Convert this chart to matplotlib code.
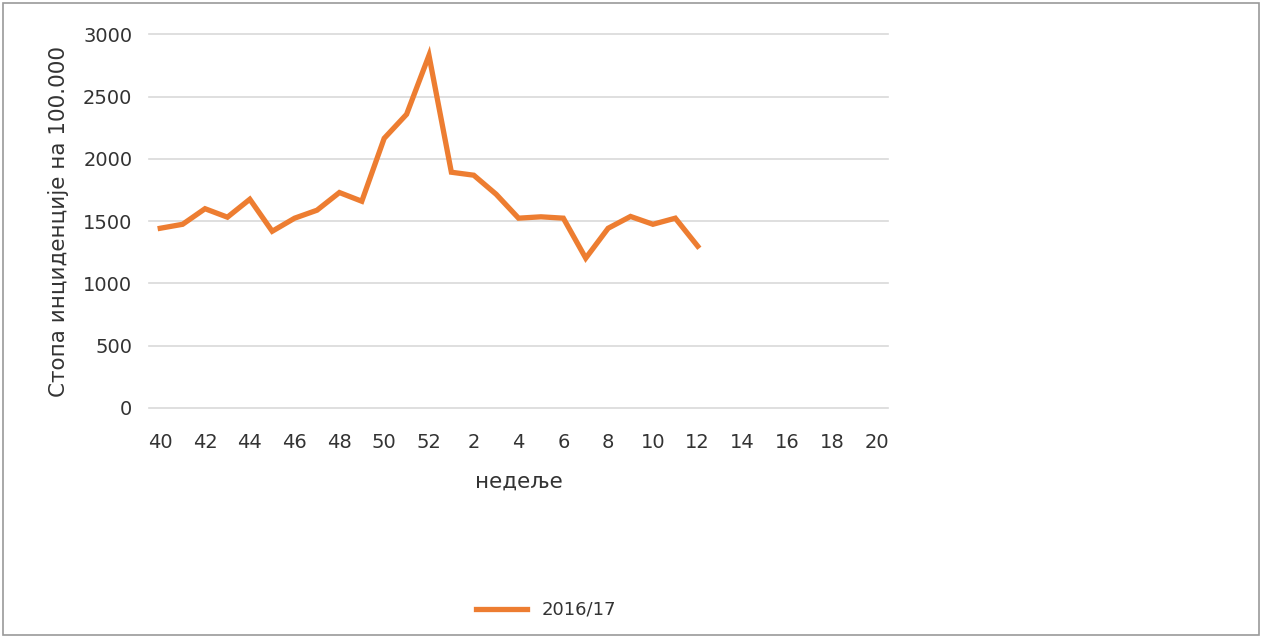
import matplotlib
matplotlib.use("Agg")
import matplotlib.pyplot as plt
from matplotlib.patches import Rectangle

# недеље 40..52 па 1..20
weeks = list(range(40, 53)) + list(range(1, 21))
rate_2016_17 = [1443, 1475, 1600, 1532, 1676, 1419, 1524, 1588, 1730, 1660,
                2165, 2358, 2831, 1893, 1869, 1716, 1524, 1535, 1524, 1203,
                1443, 1538, 1475, 1524, 1299]
series_label = "2016/17"
y_ticks = [0, 500, 1000, 1500, 2000, 2500, 3000]

plt.rcParams["font.family"] = ["DejaVu Sans"]
TXT = "#333333"

fig = plt.figure(figsize=(12.62, 6.36), dpi=100)
ax = fig.add_axes([0.1181, 0.3585, 0.5856, 0.5875])

x = list(range(len(rate_2016_17)))
ax.plot(x, rate_2016_17, color="#ED7D31", lw=3.8, solid_joinstyle="miter",
        label=series_label)

ax.set_xlim(-0.5, len(weeks) - 0.5)
ax.set_ylim(0, 3000)
ax.set_yticks(y_ticks)
ax.set_yticklabels([str(v) for v in y_ticks])
ax.set_xticks(range(0, len(weeks), 2))
ax.set_xticklabels([str(w) for w in weeks[::2]])
ax.grid(axis="y", color="#d9d9d9", lw=1.2, clip_on=False)
ax.set_axisbelow(True)
for s in ax.spines.values():
    s.set_visible(False)
ax.tick_params(length=0, labelsize=14, colors=TXT)
ax.tick_params(axis="y", pad=12)
ax.tick_params(axis="x", pad=18)

ax.set_ylabel("Стопа инциденције на 100.000", fontsize=15.5, color=TXT, labelpad=10)
ax.set_xlabel("недеље", fontsize=15.5, color=TXT, labelpad=14)

fig.legend(loc="center", bbox_to_anchor=(546 / 1262, 1 - 610 / 636), frameon=False,
           fontsize=13, handlelength=2.8, labelcolor=TXT)

fig.patches.append(Rectangle((0.002, 0.002), 0.996, 0.994, transform=fig.transFigure,
                             fill=False, edgecolor="#9a9a9a", lw=1.2))

fig.savefig("out.png", dpi=100)
